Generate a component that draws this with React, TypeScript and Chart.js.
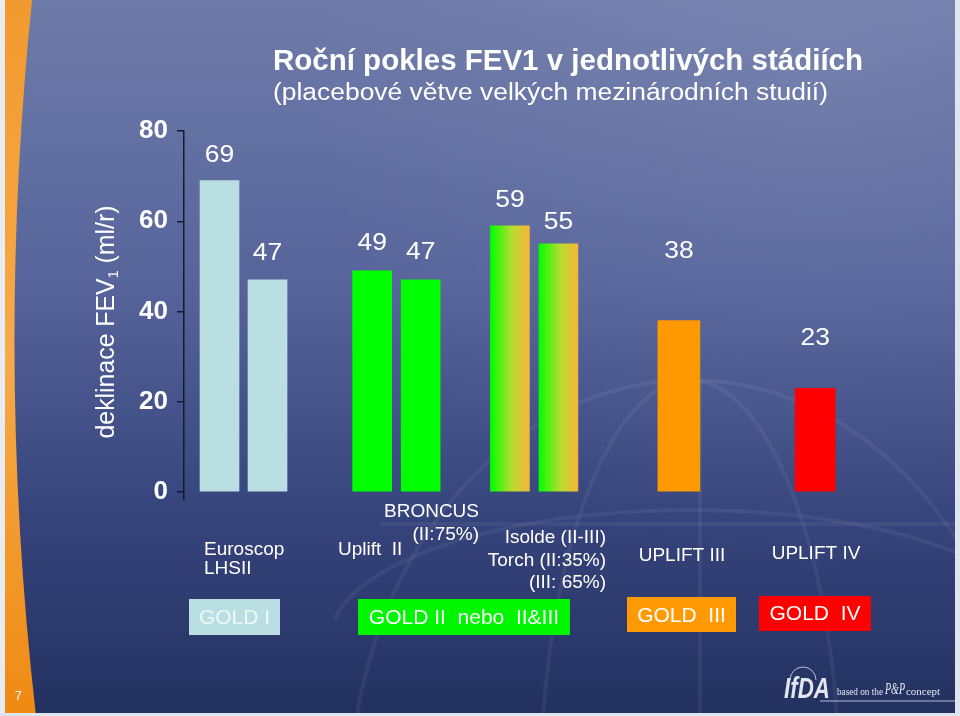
import React, { useEffect, useRef } from 'react';
import { Chart, registerables } from 'chart.js';

Chart.register(...registerables);

// ---- data ----
const studies = ['Euroscop', 'LHSII', 'Uplift II', 'BRONCUS', 'Isolde', 'Torch', 'UPLIFT III', 'UPLIFT IV'];
const fev1Decline = [69, 47, 49, 47, 59, 55, 38, 23];
const goldStage = ['I', 'I', 'II', 'II', 'II-III', 'II-III', 'III', 'IV'];
const barSlots = [0.74, 1.74, 3.92, 4.93, 6.79, 7.8, 10.31, 13.15];
const yTicks = [0, 20, 40, 60, 80];
const stageOrder = ['I', 'II', 'II-III', 'III', 'IV'];
const goldLabels = ['GOLD I', 'GOLD II  nebo  II&III', 'GOLD  III', 'GOLD  IV'];
const titleText = 'Roční pokles FEV1 v jednotlivých stádiích';
const subtitleText = '(placebové větve velkých mezinárodních studií)';

// ---- styles ----
const FONT = '"Liberation Sans", Arial, sans-serif';
const stageStyle: Record<string, { color: string; thickness: number }> = {
  I: { color: '#b9dfe3', thickness: 39 },
  II: { color: '#00ff00', thickness: 39 },
  'II-III': { color: 'gradient', thickness: 39 },
  III: { color: '#ff9900', thickness: 42 },
  IV: { color: '#ff0000', thickness: 40 },
};
const labelLift = [19, 20, 21, 21, 19, 15, 63, 43];

function txt(
  ctx: CanvasRenderingContext2D,
  s: string,
  x: number,
  y: number,
  font: string,
  color: string,
  align: CanvasTextAlign = 'left',
  width?: number,
  sx?: number
) {
  ctx.save();
  ctx.font = font;
  ctx.fillStyle = color;
  ctx.textBaseline = 'alphabetic';
  ctx.textAlign = align;
  const w = ctx.measureText(s).width;
  const k = width ? width / w : sx || 1;
  ctx.translate(x, y);
  ctx.scale(k, 1);
  ctx.fillText(s, 0, 0);
  ctx.restore();
}

const slidePlugin = {
  id: 'slide',
  beforeDraw(chart: any) {
    const ctx: CanvasRenderingContext2D = chart.ctx;
    const W = chart.width;
    const H = chart.height;
    ctx.save();
    const g = ctx.createLinearGradient(0, 0, 0, H);
    g.addColorStop(0, '#6e7ba9');
    g.addColorStop(0.4, '#56649b');
    g.addColorStop(0.72, '#36447c');
    g.addColorStop(1, '#233160');
    ctx.fillStyle = g;
    ctx.fillRect(0, 0, W, H);
    const rg = ctx.createRadialGradient(820, 60, 10, 820, 60, 520);
    rg.addColorStop(0, 'rgba(255,255,255,0.07)');
    rg.addColorStop(1, 'rgba(255,255,255,0)');
    ctx.fillStyle = rg;
    ctx.fillRect(0, 0, W, H);

    // globe lines
    ctx.strokeStyle = 'rgba(255,255,255,0.055)';
    ctx.lineWidth = 4;
    ctx.beginPath();
    ctx.ellipse(690, 800, 340, 420, 0, Math.PI * 1.02, Math.PI * 1.98);
    ctx.stroke();
    ctx.beginPath();
    ctx.ellipse(690, 800, 150, 420, 0, Math.PI * 1.05, Math.PI * 1.95);
    ctx.stroke();
    ctx.beginPath();
    ctx.moveTo(700, 380);
    ctx.lineTo(700, 716);
    ctx.stroke();
    ctx.beginPath();
    ctx.ellipse(690, 640, 360, 130, 0, Math.PI * 1.05, Math.PI * 1.95);
    ctx.stroke();
    ctx.beginPath();
    ctx.moveTo(380, 524);
    ctx.lineTo(960, 524);
    ctx.stroke();

    // left orange strip
    ctx.fillStyle = '#e8ecf2';
    ctx.fillRect(0, 0, 5, H);
    const og = ctx.createLinearGradient(0, 0, 0, H);
    og.addColorStop(0, '#f29a2e');
    og.addColorStop(0.5, '#f6aa48');
    og.addColorStop(1, '#ef8a12');
    ctx.fillStyle = og;
    ctx.beginPath();
    ctx.moveTo(5, 0);
    ctx.lineTo(32, 0);
    ctx.quadraticCurveTo(-5, 360, 36, 716);
    ctx.lineTo(5, 716);
    ctx.closePath();
    ctx.fill();
    // right and bottom borders
    ctx.fillStyle = '#dfe5ef';
    ctx.fillRect(955, 0, 5, H);
    ctx.fillRect(0, 713, W, 3);
    ctx.restore();
  },
  afterDatasetsDraw(chart: any) {
    const ctx: CanvasRenderingContext2D = chart.ctx;
    const xs = chart.scales.x;
    const ys = chart.scales.y;
    fev1Decline.forEach((v, i) => {
      const x = xs.getPixelForValue(barSlots[i]);
      const y = ys.getPixelForValue(v) - labelLift[i];
      txt(ctx, String(v), x, y, `23px ${FONT}`, '#ffffff', 'center', undefined, 1.15);
    });
  },
  afterDraw(chart: any) {
    const ctx: CanvasRenderingContext2D = chart.ctx;
    // titles
    txt(ctx, titleText, 273, 70, `bold 30px ${FONT}`, '#ffffff', 'left', 590);
    txt(ctx, subtitleText, 273, 100, `23px ${FONT}`, '#ffffff', 'left', 555);

    // y axis title (rotated, with subscript)
    ctx.save();
    ctx.translate(114, 322);
    ctx.rotate(-Math.PI / 2);
    ctx.fillStyle = '#ffffff';
    const fMain = `26px ${FONT}`;
    const fSub = `15px ${FONT}`;
    const a = 'deklinace FEV';
    const b = '1';
    const c = ' (ml/r)';
    ctx.font = fMain;
    const wa = ctx.measureText(a).width;
    const wc = ctx.measureText(c).width;
    ctx.font = fSub;
    const wb = ctx.measureText(b).width;
    const total = wa + wb + wc;
    const k = 233 / total;
    ctx.scale(k, 1);
    const x0 = -total / 2;
    ctx.textBaseline = 'alphabetic';
    ctx.font = fMain;
    ctx.fillText(a, x0, 0);
    ctx.font = fSub;
    ctx.fillText(b, x0 + wa, 4);
    ctx.font = fMain;
    ctx.fillText(c, x0 + wa + wb, 0);
    ctx.restore();

    // category labels
    const cf = `19px ${FONT}`;
    const white = '#ffffff';
    txt(ctx, 'Euroscop', 204, 555, cf, white, 'left');
    txt(ctx, 'LHSII', 204, 574, cf, white, 'left');
    txt(ctx, 'Uplift  II', 338, 555, cf, white, 'left');
    txt(ctx, 'BRONCUS', 479, 517, cf, white, 'right');
    txt(ctx, '(II:75%)', 479, 540, cf, white, 'right');
    txt(ctx, 'Isolde (II-III)', 606, 543, cf, white, 'right');
    txt(ctx, 'Torch (II:35%)', 606, 566, cf, white, 'right');
    txt(ctx, '(III: 65%)', 606, 588, cf, white, 'right');
    txt(ctx, 'UPLIFT III', 682, 561, cf, white, 'center');
    txt(ctx, 'UPLIFT IV', 816, 559, cf, white, 'center');

    // GOLD boxes
    const gf = `21px ${FONT}`;
    const boxes = [
      { x: 189, y: 599, w: 91, h: 36, fill: '#b9dfe3', color: '#eef8f8', base: 624 },
      { x: 358, y: 599, w: 212, h: 36, fill: '#00f500', color: '#ffffff', base: 624 },
      { x: 627, y: 597, w: 109, h: 35, fill: '#ff9a05', color: '#ffffff', base: 622 },
      { x: 759, y: 596, w: 112, h: 35, fill: '#ff0000', color: '#ffffff', base: 620 },
    ];
    boxes.forEach((bx, i) => {
      ctx.fillStyle = bx.fill;
      ctx.fillRect(bx.x, bx.y, bx.w, bx.h);
      txt(ctx, goldLabels[i], bx.x + bx.w / 2, bx.base, gf, bx.color, 'center');
    });

    // footer
    txt(ctx, '7', 15, 700, `12px ${FONT}`, '#ffffff', 'left');
    // logo
    ctx.save();
    ctx.strokeStyle = 'rgba(210,218,232,0.55)';
    ctx.lineWidth = 1.5;
    ctx.beginPath();
    ctx.moveTo(820, 701);
    ctx.lineTo(955, 701);
    ctx.stroke();
    ctx.strokeStyle = 'rgba(220,226,238,0.8)';
    ctx.lineWidth = 1;
    ctx.beginPath();
    ctx.arc(803, 680, 13, Math.PI, 2 * Math.PI);
    ctx.stroke();
    ctx.restore();
    txt(ctx, 'IfDA', 784, 698, `italic bold 29px ${FONT}`, '#e2e6ef', 'left', 46);
    txt(ctx, 'based on the', 837, 695, `10px "Liberation Serif", serif`, '#e2e6ef', 'left', 46);
    txt(ctx, 'P&P', 885, 694, `italic 17px "Liberation Serif", serif`, '#e2e6ef', 'left', 20);
    txt(ctx, 'concept', 906, 695, `10px "Liberation Serif", serif`, '#e2e6ef', 'left', 34);
  },
};

export default function App() {
  const ref = useRef<HTMLCanvasElement | null>(null);
  useEffect(() => {
    document.body.style.margin = '0';
    const canvas = ref.current;
    if (!canvas) return;
    const datasets = stageOrder.map((stage) => {
      const idx = goldStage.map((s, i) => (s === stage ? i : -1)).filter((i) => i >= 0);
      const st = stageStyle[stage];
      return {
        label: 'GOLD ' + stage,
        data: idx.map((i) => ({ x: barSlots[i], y: fev1Decline[i], name: studies[i] })),
        barThickness: st.thickness,
        grouped: false,
        borderWidth: 0,
        backgroundColor:
          st.color === 'gradient'
            ? (c: any) => {
                const xs = c.chart.scales && c.chart.scales.x;
                if (!xs || !c.raw) return '#7fd82a';
                const cx = xs.getPixelForValue(c.raw.x);
                if (!Number.isFinite(cx)) return '#7fd82a';
                const gr = c.chart.ctx.createLinearGradient(cx - st.thickness / 2, 0, cx + st.thickness / 2, 0);
                gr.addColorStop(0, '#00ff00');
                gr.addColorStop(0.55, '#b8dc30');
                gr.addColorStop(1, '#f7b536');
                return gr;
              }
            : st.color,
      };
    });
    const chart = new Chart(canvas, {
      type: 'bar',
      data: { datasets },
      plugins: [slidePlugin],
      options: {
        animation: false,
        responsive: false,
        devicePixelRatio: 1,
        events: [],
        layout: { padding: { top: 131, bottom: 216, left: 0, right: 56 } },
        plugins: { legend: { display: false }, tooltip: { enabled: false }, title: { display: false } },
        scales: {
          x: { type: 'linear', display: false, min: 0, max: 15, offset: false, grid: { offset: false } },
          y: {
            min: -1.77,
            max: 80,
            afterBuildTicks: (s: any) => {
              s.ticks = yTicks.map((v) => ({ value: v }));
            },
            afterFit: (s: any) => {
              s.width = 184;
            },
            border: { display: true, color: '#141a30', width: 1.5 },
            grid: { drawOnChartArea: false, drawTicks: true, tickLength: 7, color: '#141a30', lineWidth: 1.5 },
            ticks: { color: '#ffffff', padding: 9, font: { family: FONT, size: 26, weight: 'bold' } },
          },
        },
      } as any,
    });
    return () => chart.destroy();
  }, []);
  return (
    <canvas
      ref={ref}
      width={960}
      height={716}
      style={{ position: 'fixed', left: 0, top: 0, width: 960, height: 716 }}
    />
  );
}
